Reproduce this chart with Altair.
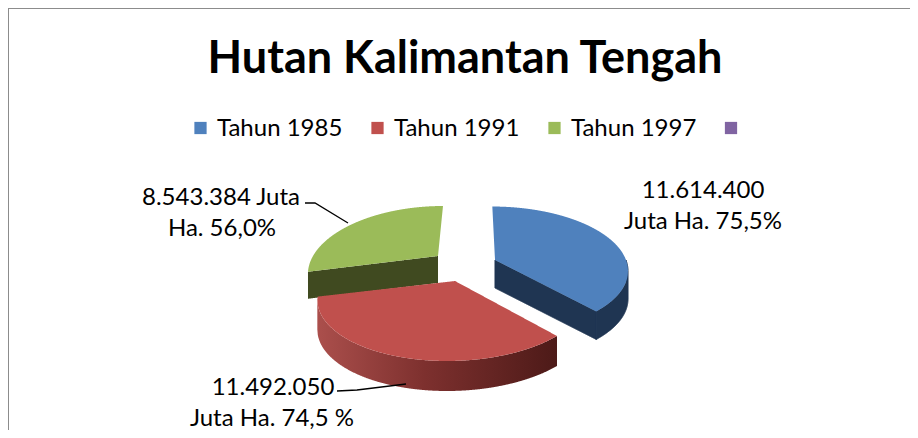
import numpy as np
import pandas as pd
import altair as alt

TITLE = "Hutan Kalimantan Tengah"
legend_labels = ["Tahun 1985", "Tahun 1991", "Tahun 1997", ""]
legend_colors = ["#4f81bd", "#c0504d", "#9bbb59", "#8064a2"]

# Slice sweeps, in degrees, clockwise from the top
slice_names = ["Tahun 1985", "Tahun 1991", "Tahun 1997"]
slice_degrees = [138, 118, 104]
top_colors = ["#4f81bd", "#c0504d", "#9bbb59"]
side_colors = ["#1f3552", "#6e2826", "#404a20"]

label_lines = [
    "11.614.400", "Juta Ha.  75,5%",
    "8.543.384 Juta", "Ha. 56,0%",
    "11.492.050", "Juta Ha. 74,5 %",
]

# 3D look of each exploded slice
views = {
    "Tahun 1985": dict(cx=495, cy=260, rx=131, ry=61.5, p=0.15, k=0.05, depth=28),
    "Tahun 1991": dict(cx=455, cy=281, rx=132, ry=60.8, p=0.24, k=-0.10, depth=30),
    "Tahun 1997": dict(cx=438, cy=256, rx=125, ry=61.5, p=0.23, k=-0.10, depth=27),
}


def rim(view, a0, a1, n=160):
    t = np.radians(np.linspace(a0, a1, n))
    u, v = np.sin(t), np.cos(t)
    s = 1 / (1 + view["p"] * v)
    dy = -view["ry"] * v * s
    dx = view["rx"] * u * s + view["k"] * dy
    return np.column_stack([view["cx"] + dx, view["cy"] + dy])


def spans(poly, name, part):
    """Turn a polygon into x / y / y2 rows for an area mark."""
    xs = np.linspace(poly[:, 0].min() + 1e-3, poly[:, 0].max() - 1e-3, 500)
    a, b = poly, np.roll(poly, -1, axis=0)
    rows = []
    for x in xs:
        hit = (a[:, 0] - x) * (b[:, 0] - x) <= 0
        hit &= a[:, 0] != b[:, 0]
        if not hit.any():
            continue
        f = (x - a[hit, 0]) / (b[hit, 0] - a[hit, 0])
        ys = a[hit, 1] + f * (b[hit, 1] - a[hit, 1])
        rows.append(dict(x=x, y=ys.min(), y2=ys.max(), slice=name, part=part))
    return rows


x_scale = alt.Scale(domain=[8, 910], range=[0, 902], nice=False, zero=False)
y_scale = alt.Scale(domain=[8, 430], range=[0, 422], nice=False, zero=False)
X = alt.X("x:Q", scale=x_scale, axis=None)
Y = alt.Y("y:Q", scale=y_scale, axis=None)


def area_layer(rows, fill, seal=False):
    style = dict(stroke=fill, strokeWidth=1) if seal else dict(strokeWidth=0)
    return alt.Chart(pd.DataFrame(rows)).mark_area(
        color=fill, opacity=1, **style
    ).encode(x=X, y=Y, y2=alt.Y2("y2:Q"))


red_gradient = alt.Gradient(
    gradient="linear",
    stops=[
        alt.GradientStop(color="#ab4f4c", offset=0),
        alt.GradientStop(color="#7d302e", offset=0.45),
        alt.GradientStop(color="#4d1a18", offset=1),
    ],
    x1=0, x2=1, y1=0, y2=0,
)

layers = []

# Frame of the chart
frame = pd.DataFrame({"x": [8, 8, 910], "y": [430, 8, 8], "o": [0, 1, 2]})
layers.append(
    alt.Chart(frame).mark_line(color="#8c8c8c", strokeWidth=2).encode(
        x=X, y=Y, order=alt.Order("o:Q")
    )
)

# Slices, from the back to the front
starts = np.cumsum([0] + slice_degrees[:-1])
draw_order = [2, 1, 0]
for i in draw_order:
    name = slice_names[i]
    view = views[name]
    a0, a1 = starts[i], starts[i] + slice_degrees[i]
    arc = rim(view, a0, a1)
    apex = np.array([[view["cx"], view["cy"]]])
    drop = np.array([0, view["depth"]])

    # Visible faces below the top: the outer rim, and the cut that faces us
    if i == 0:
        cut = np.vstack([apex, arc[-1:], arc[-1:] + drop, apex + drop])
        layers.append(area_layer(spans(cut, name, "cut"), side_colors[i], seal=True))
        lower = rim(view, 90, a1)
        wall = np.vstack([lower, (lower + drop)[::-1]])
        layers.append(area_layer(spans(wall, name, "wall"), side_colors[i], seal=True))
    elif i == 1:
        wall = np.vstack([arc, (arc + drop)[::-1]])
        layers.append(area_layer(spans(wall, name, "wall"), red_gradient))
    else:
        cut = np.vstack([apex, arc[:1], arc[:1] + drop, apex + drop])
        layers.append(area_layer(spans(cut, name, "cut"), side_colors[i]))

    top = np.vstack([apex, arc])
    layers.append(area_layer(spans(top, name, "top"), top_colors[i]))

# Leader lines
leaders = pd.DataFrame({
    "x": [305, 315, 348, 337, 357, 406],
    "y": [203, 203, 223, 391, 390, 384],
    "o": [0, 1, 2, 0, 1, 2],
    "g": ["a", "a", "a", "b", "b", "b"],
})
layers.append(
    alt.Chart(leaders).mark_line(color="#000000", strokeWidth=1.3).encode(
        x=X, y=Y, detail="g:N", order="o:Q"
    )
)

# Data labels
labels = pd.DataFrame({
    "x": [703, 703, 221, 222, 273, 272],
    "y": [198, 229, 205, 236, 395, 426],
    "t": label_lines,
})
layers.append(
    alt.Chart(labels).mark_text(
        font="Lato", fontSize=24, color="#000000", align="center", baseline="alphabetic"
    ).encode(x=X, y=Y, text="t:N")
)

# Legend
legend = pd.DataFrame({
    "x": [200.5, 377.5, 554.5, 731],
    "y": [128, 128, 128, 128],
    "t": legend_labels,
    "c": legend_colors,
})
layers.append(
    alt.Chart(legend).mark_square(size=150, opacity=1).encode(
        x=X, y=Y, color=alt.Color("c:N", scale=None)
    )
)
legend_text = legend.iloc[:3].assign(x=[217, 394, 571], y=[136, 136, 136])
layers.append(
    alt.Chart(legend_text).mark_text(
        font="Lato", fontSize=24, color="#000000", align="left", baseline="alphabetic"
    ).encode(x=X, y=Y, text="t:N")
)

chart = alt.layer(*layers).resolve_scale(color="independent").properties(
    width=902,
    height=422,
    padding=0,
    autosize="none",
    background="#ffffff",
    title=alt.TitleParams(
        text=TITLE, font="Lato", fontSize=45, fontWeight="bold", color="#000000",
        anchor="middle", offset=0, dy=78, dx=6,
    ),
).configure_view(stroke=None)

chart.save("out.html", embed_options={"renderer": "svg", "actions": False})
